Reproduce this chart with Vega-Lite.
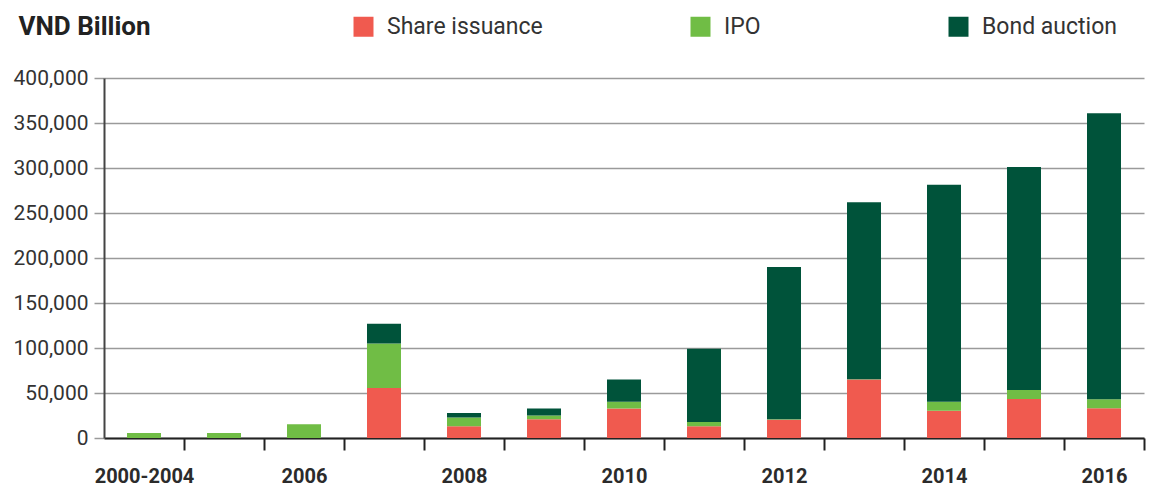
{
  "$schema": "https://vega.github.io/schema/vega-lite/v6.json",
  "width": 1040,
  "height": 360,
  "autosize": {"type": "none"},
  "padding": {"left": 104, "top": 78, "right": 8, "bottom": 50},
  "background": "white",
  "config": {"view": {"stroke": null}, "font": "Roboto"},
  "data": {
    "values": [
      {"period": "2000-2004", "type": "Share issuance", "ord": 1, "value": 0},
      {"period": "2000-2004", "type": "IPO", "ord": 2, "value": 5500},
      {"period": "2000-2004", "type": "Bond auction", "ord": 3, "value": 0},
      {"period": "2005", "type": "Share issuance", "ord": 1, "value": 0},
      {"period": "2005", "type": "IPO", "ord": 2, "value": 5500},
      {"period": "2005", "type": "Bond auction", "ord": 3, "value": 0},
      {"period": "2006", "type": "Share issuance", "ord": 1, "value": 0},
      {"period": "2006", "type": "IPO", "ord": 2, "value": 15200},
      {"period": "2006", "type": "Bond auction", "ord": 3, "value": 0},
      {"period": "2007", "type": "Share issuance", "ord": 1, "value": 55500},
      {"period": "2007", "type": "IPO", "ord": 2, "value": 49500},
      {"period": "2007", "type": "Bond auction", "ord": 3, "value": 22000},
      {"period": "2008", "type": "Share issuance", "ord": 1, "value": 13000},
      {"period": "2008", "type": "IPO", "ord": 2, "value": 9700},
      {"period": "2008", "type": "Bond auction", "ord": 3, "value": 5100},
      {"period": "2009", "type": "Share issuance", "ord": 1, "value": 20800},
      {"period": "2009", "type": "IPO", "ord": 2, "value": 4100},
      {"period": "2009", "type": "Bond auction", "ord": 3, "value": 7800},
      {"period": "2010", "type": "Share issuance", "ord": 1, "value": 32700},
      {"period": "2010", "type": "IPO", "ord": 2, "value": 7700},
      {"period": "2010", "type": "Bond auction", "ord": 3, "value": 24500},
      {"period": "2011", "type": "Share issuance", "ord": 1, "value": 13000},
      {"period": "2011", "type": "IPO", "ord": 2, "value": 4800},
      {"period": "2011", "type": "Bond auction", "ord": 3, "value": 81500},
      {"period": "2012", "type": "Share issuance", "ord": 1, "value": 20400},
      {"period": "2012", "type": "IPO", "ord": 2, "value": 300},
      {"period": "2012", "type": "Bond auction", "ord": 3, "value": 169300},
      {"period": "2013", "type": "Share issuance", "ord": 1, "value": 65000},
      {"period": "2013", "type": "IPO", "ord": 2, "value": 300},
      {"period": "2013", "type": "Bond auction", "ord": 3, "value": 196700},
      {"period": "2014", "type": "Share issuance", "ord": 1, "value": 30300},
      {"period": "2014", "type": "IPO", "ord": 2, "value": 10100},
      {"period": "2014", "type": "Bond auction", "ord": 3, "value": 241100},
      {"period": "2015", "type": "Share issuance", "ord": 1, "value": 43300},
      {"period": "2015", "type": "IPO", "ord": 2, "value": 10000},
      {"period": "2015", "type": "Bond auction", "ord": 3, "value": 247700},
      {"period": "2016", "type": "Share issuance", "ord": 1, "value": 33000},
      {"period": "2016", "type": "IPO", "ord": 2, "value": 10000},
      {"period": "2016", "type": "Bond auction", "ord": 3, "value": 317800}
    ]
  },
  "mark": {"type": "bar"},
  "encoding": {
    "x": {
      "field": "period",
      "type": "nominal",
      "sort": ["2000-2004", "2005", "2006", "2007", "2008", "2009", "2010", "2011", "2012", "2013", "2014", "2015", "2016"],
      "scale": {"paddingInner": 0.575, "paddingOuter": 0.2875},
      "axis": {
        "title": null,
        "labelAngle": 0,
        "bandPosition": 1,
        "tickOffset": 23,
        "labelOffset": -23,
        "labelExpr": "indexof(['2000-2004','2006','2008','2010','2012','2014','2016'], datum.value) >= 0 ? datum.label : ''",
        "domainColor": "#222222",
        "domainWidth": 2,
        "tickColor": "#222222",
        "tickWidth": 2,
        "tickSize": 12,
        "labelFont": "Roboto",
        "labelFontWeight": "bold",
        "labelFontSize": 20,
        "labelColor": "#2b2b2b",
        "labelPadding": 16,
        "grid": false,
        "labelBound": false,
        "labelOverlap": false
      }
    },
    "y": {
      "field": "value",
      "type": "quantitative",
      "stack": "zero",
      "scale": {"domain": [0, 400000], "nice": false},
      "axis": {
        "title": "VND Billion",
        "titleAngle": 0,
        "titleAlign": "left",
        "titleBaseline": "middle",
        "titleX": -86,
        "titleY": -52,
        "titleFont": "Roboto",
        "titleFontSize": 26,
        "titleFontWeight": "bold",
        "titleColor": "#222222",
        "values": [0, 50000, 100000, 150000, 200000, 250000, 300000, 350000, 400000],
        "format": ",d",
        "labelFont": "Roboto",
        "labelFontSize": 21,
        "labelColor": "#333333",
        "labelPadding": 6,
        "tickSize": 10,
        "tickColor": "#9a9a9a",
        "tickWidth": 1.5,
        "grid": true,
        "gridColor": "#9a9a9a",
        "gridWidth": 1.5,
        "domainColor": "#444444",
        "domainWidth": 2
      }
    },
    "color": {
      "field": "type",
      "type": "nominal",
      "scale": {"domain": ["Share issuance", "IPO", "Bond auction"], "range": ["#F05A4F", "#70BD45", "#00533A"]},
      "legend": {
        "orient": "none",
        "legendX": 248,
        "legendY": -63,
        "direction": "horizontal",
        "title": null,
        "symbolType": "square",
        "symbolSize": 400,
        "symbolStrokeWidth": 0,
        "labelFont": "Roboto",
        "labelFontSize": 23,
        "labelColor": "#333333",
        "labelExpr": "datum.label == 'IPO' ? 'IPO\u00a0\u00a0\u00a0\u00a0\u00a0\u00a0\u00a0\u200b' : datum.label",
        "columnPadding": 146,
        "labelOffset": 12,
        "padding": 0
      }
    },
    "order": {"field": "ord", "type": "quantitative"}
  }
}
